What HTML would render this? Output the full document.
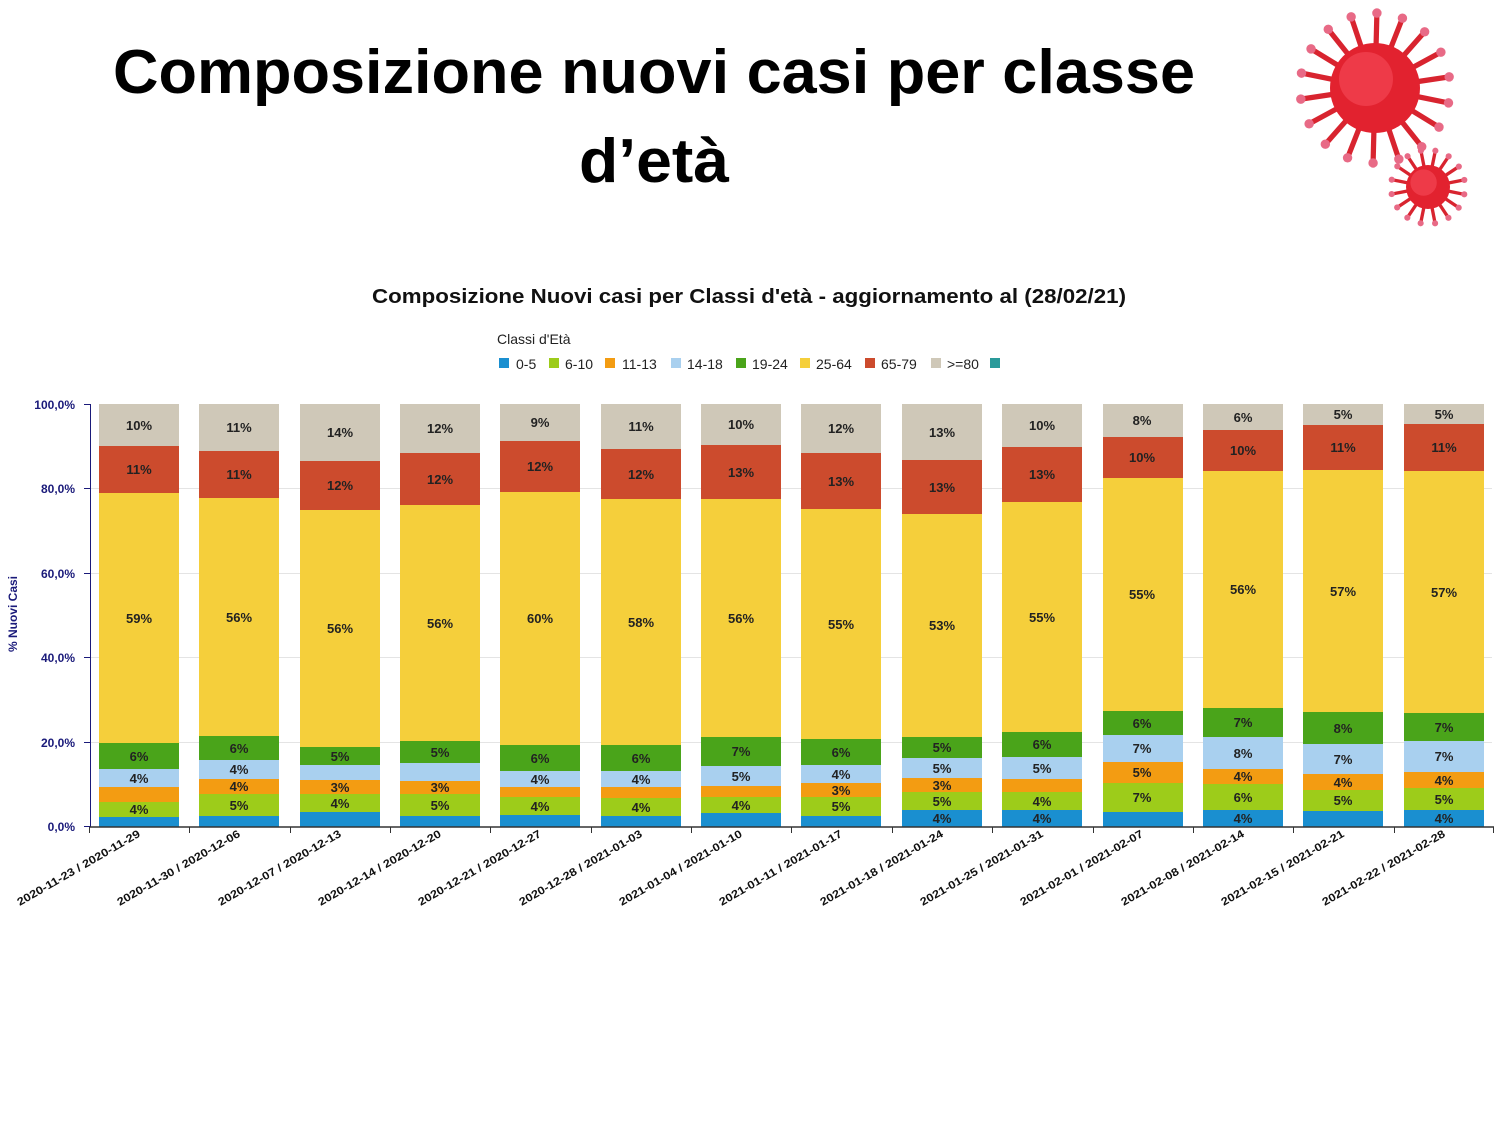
<!DOCTYPE html>
<html><head><meta charset="utf-8"><style>
html,body{margin:0;padding:0;background:#fff;}
svg{display:block;font-family:"Liberation Sans",sans-serif;}
.l{font-size:13px;font-weight:bold;fill:#222;text-anchor:middle;}
.x{font-size:11px;font-weight:bold;fill:#111;text-anchor:end;}
.y{font-size:12px;font-weight:bold;fill:#1a1a7a;text-anchor:end;}
.lg{font-size:14px;fill:#222;}
</style></head><body>
<svg id="s" width="1500" height="1125" viewBox="0 0 1500 1125" xmlns="http://www.w3.org/2000/svg">
<text x="654" y="93" font-size="62" font-weight="bold" text-anchor="middle" textLength="1082" lengthAdjust="spacingAndGlyphs">Composizione nuovi casi per classe</text>
<text x="654" y="182" font-size="62" font-weight="bold" text-anchor="middle" textLength="150" lengthAdjust="spacingAndGlyphs">d’età</text>
<g id="virus"></g>
<text x="749" y="303" font-size="20" font-weight="bold" text-anchor="middle" fill="#111" textLength="754" lengthAdjust="spacingAndGlyphs">Composizione Nuovi casi per Classi d'età - aggiornamento al (28/02/21)</text>
<text x="497" y="344" class="lg">Classi d'Età</text>
<g class="lg">
<rect x="499" y="358" width="10" height="10" fill="#1a8fd0"/><text x="516" y="369">0-5</text>
<rect x="549" y="358" width="10" height="10" fill="#9dcc1a"/><text x="565" y="369">6-10</text>
<rect x="605" y="358" width="10" height="10" fill="#f39c12"/><text x="622" y="369">11-13</text>
<rect x="671" y="358" width="10" height="10" fill="#a9d0ef"/><text x="687" y="369">14-18</text>
<rect x="736" y="358" width="10" height="10" fill="#4aa41a"/><text x="752" y="369">19-24</text>
<rect x="800" y="358" width="10" height="10" fill="#f5cf3b"/><text x="816" y="369">25-64</text>
<rect x="865" y="358" width="10" height="10" fill="#cc4b2d"/><text x="881" y="369">65-79</text>
<rect x="931" y="358" width="10" height="10" fill="#cfc8b8"/><text x="947" y="369">&gt;=80</text>
<rect x="990" y="358" width="10" height="10" fill="#2a9a9a"/>
</g>
<g stroke="#e4e4e4" stroke-width="1">
<line x1="90" x2="1492" y1="488.5" y2="488.5"/><line x1="90" x2="1492" y1="573.5" y2="573.5"/>
<line x1="90" x2="1492" y1="657.5" y2="657.5"/><line x1="90" x2="1492" y1="742.5" y2="742.5"/>
</g>
<g id="bars"></g>
<g stroke="#1a1a7a" stroke-width="1">
<line x1="90.5" y1="404" x2="90.5" y2="827"/>
<line x1="84" y1="404.5" x2="90" y2="404.5"/><line x1="84" y1="488.5" x2="90" y2="488.5"/><line x1="84" y1="573.5" x2="90" y2="573.5"/><line x1="84" y1="657.5" x2="90" y2="657.5"/><line x1="84" y1="742.5" x2="90" y2="742.5"/><line x1="84" y1="826.5" x2="90" y2="826.5"/>
</g>
<line x1="90" y1="827" x2="1494" y2="827" stroke="#333" stroke-width="1.5"/>
<g id="ticks" stroke="#333"></g>
<text class="y" x="75" y="409">100,0%</text><text class="y" x="75" y="493">80,0%</text><text class="y" x="75" y="578">60,0%</text><text class="y" x="75" y="662">40,0%</text><text class="y" x="75" y="747">20,0%</text><text class="y" x="75" y="831">0,0%</text>
<text transform="translate(17,614) rotate(-90)" font-size="12" font-weight="bold" fill="#1a1a7a" text-anchor="middle">% Nuovi Casi</text>
<g class="l">
<text x="139" y="814">4%</text><text x="139" y="783">4%</text><text x="139" y="761">6%</text><text x="139" y="623">59%</text><text x="139" y="474">11%</text><text x="139" y="430">10%</text>
<text x="239" y="810">5%</text><text x="239" y="791">4%</text><text x="239" y="774">4%</text><text x="239" y="753">6%</text><text x="239" y="622">56%</text><text x="239" y="479">11%</text><text x="239" y="432">11%</text>
<text x="340" y="808">4%</text><text x="340" y="792">3%</text><text x="340" y="761">5%</text><text x="340" y="633">56%</text><text x="340" y="490">12%</text><text x="340" y="437">14%</text>
<text x="440" y="810">5%</text><text x="440" y="792">3%</text><text x="440" y="757">5%</text><text x="440" y="628">56%</text><text x="440" y="484">12%</text><text x="440" y="433">12%</text>
<text x="540" y="811">4%</text><text x="540" y="784">4%</text><text x="540" y="763">6%</text><text x="540" y="623">60%</text><text x="540" y="471">12%</text><text x="540" y="427">9%</text>
<text x="641" y="812">4%</text><text x="641" y="784">4%</text><text x="641" y="763">6%</text><text x="641" y="627">58%</text><text x="641" y="479">12%</text><text x="641" y="431">11%</text>
<text x="741" y="810">4%</text><text x="741" y="781">5%</text><text x="741" y="756">7%</text><text x="741" y="623">56%</text><text x="741" y="477">13%</text><text x="741" y="429">10%</text>
<text x="841" y="811">5%</text><text x="841" y="795">3%</text><text x="841" y="779">4%</text><text x="841" y="757">6%</text><text x="841" y="629">55%</text><text x="841" y="486">13%</text><text x="841" y="433">12%</text>
<text x="942" y="823">4%</text><text x="942" y="806">5%</text><text x="942" y="790">3%</text><text x="942" y="773">5%</text><text x="942" y="752">5%</text><text x="942" y="630">53%</text><text x="942" y="492">13%</text><text x="942" y="437">13%</text>
<text x="1042" y="823">4%</text><text x="1042" y="806">4%</text><text x="1042" y="773">5%</text><text x="1042" y="749">6%</text><text x="1042" y="622">55%</text><text x="1042" y="479">13%</text><text x="1042" y="430">10%</text>
<text x="1142" y="802">7%</text><text x="1142" y="777">5%</text><text x="1142" y="753">7%</text><text x="1142" y="728">6%</text><text x="1142" y="599">55%</text><text x="1142" y="462">10%</text><text x="1142" y="425">8%</text>
<text x="1243" y="823">4%</text><text x="1243" y="802">6%</text><text x="1243" y="781">4%</text><text x="1243" y="758">8%</text><text x="1243" y="727">7%</text><text x="1243" y="594">56%</text><text x="1243" y="455">10%</text><text x="1243" y="422">6%</text>
<text x="1343" y="805">5%</text><text x="1343" y="787">4%</text><text x="1343" y="764">7%</text><text x="1343" y="733">8%</text><text x="1343" y="596">57%</text><text x="1343" y="452">11%</text><text x="1343" y="419">5%</text>
<text x="1444" y="823">4%</text><text x="1444" y="804">5%</text><text x="1444" y="785">4%</text><text x="1444" y="761">7%</text><text x="1444" y="732">7%</text><text x="1444" y="597">57%</text><text x="1444" y="452">11%</text><text x="1444" y="419">5%</text>
</g>
<g class="x">
<text transform="translate(141,836) rotate(-30)" textLength="140" lengthAdjust="spacingAndGlyphs">2020-11-23 / 2020-11-29</text>
<text transform="translate(241,836) rotate(-30)" textLength="140" lengthAdjust="spacingAndGlyphs">2020-11-30 / 2020-12-06</text>
<text transform="translate(342,836) rotate(-30)" textLength="140" lengthAdjust="spacingAndGlyphs">2020-12-07 / 2020-12-13</text>
<text transform="translate(442,836) rotate(-30)" textLength="140" lengthAdjust="spacingAndGlyphs">2020-12-14 / 2020-12-20</text>
<text transform="translate(542,836) rotate(-30)" textLength="140" lengthAdjust="spacingAndGlyphs">2020-12-21 / 2020-12-27</text>
<text transform="translate(643,836) rotate(-30)" textLength="140" lengthAdjust="spacingAndGlyphs">2020-12-28 / 2021-01-03</text>
<text transform="translate(743,836) rotate(-30)" textLength="140" lengthAdjust="spacingAndGlyphs">2021-01-04 / 2021-01-10</text>
<text transform="translate(843,836) rotate(-30)" textLength="140" lengthAdjust="spacingAndGlyphs">2021-01-11 / 2021-01-17</text>
<text transform="translate(944,836) rotate(-30)" textLength="140" lengthAdjust="spacingAndGlyphs">2021-01-18 / 2021-01-24</text>
<text transform="translate(1044,836) rotate(-30)" textLength="140" lengthAdjust="spacingAndGlyphs">2021-01-25 / 2021-01-31</text>
<text transform="translate(1144,836) rotate(-30)" textLength="140" lengthAdjust="spacingAndGlyphs">2021-02-01 / 2021-02-07</text>
<text transform="translate(1245,836) rotate(-30)" textLength="140" lengthAdjust="spacingAndGlyphs">2021-02-08 / 2021-02-14</text>
<text transform="translate(1345,836) rotate(-30)" textLength="140" lengthAdjust="spacingAndGlyphs">2021-02-15 / 2021-02-21</text>
<text transform="translate(1446,836) rotate(-30)" textLength="140" lengthAdjust="spacingAndGlyphs">2021-02-22 / 2021-02-28</text>
</g>
</svg>
<script>
var NS="http://www.w3.org/2000/svg";
var cols=["#1a8fd0","#9dcc1a","#f39c12","#a9d0ef","#4aa41a","#f5cf3b","#cc4b2d","#cfc8b8"];
var B=[[817,802,787,769,743,493,446],[816,794,779,760,736,498,451],[812,794,780,765,747,510,461],[816,794,781,763,741,505,453],[815,797,787,771,745,492,441],[816,798,787,771,745,499,449],[813,797,786,766,737,499,445],[816,797,783,765,739,509,453],[810,792,778,758,737,514,460],[810,792,779,757,732,502,447],[812,783,762,735,711,478,437],[810,784,769,737,708,471,430],[811,790,774,744,712,470,425],[810,788,772,741,713,471,424]];
var g=document.getElementById("bars"),t=document.getElementById("ticks");
function el(n,a,p){var e=document.createElementNS(NS,n);for(var k in a)e.setAttribute(k,a[k]);p.appendChild(e);return e;}
for(var i=0;i<14;i++){var x=Math.round(99+100.35*i);var b=[827].concat(B[i]).concat([404]);
for(var j=0;j<8;j++){el("rect",{x:x,y:b[j+1],width:80,height:b[j]-b[j+1],fill:cols[j]},g);}
var tx=Math.round(89+100.35*i)+0.5;el("line",{x1:tx,x2:tx,y1:827,y2:833},t);}
el("line",{x1:1493.5,x2:1493.5,y1:827,y2:833},t);
var v=document.getElementById("virus");
function virus(cx,cy,r,n,len){for(var k=0;k<n;k++){var a=k*2*Math.PI/n+0.2;var x2=cx+Math.cos(a)*(r+len),y2=cy+Math.sin(a)*(r+len);
el("line",{x1:cx,y1:cy,x2:x2,y2:y2,stroke:"#d8242f","stroke-width":r/12+1.5},v);el("circle",{cx:x2,cy:y2,r:r/14+1.5,fill:"#e86a86"},v);}
el("circle",{cx:cx,cy:cy,r:r,fill:"#e2222f"},v);el("circle",{cx:cx-r*0.2,cy:cy-r*0.2,r:r*0.6,fill:"#ee3a48"},v);}
virus(1375,88,45,18,30);virus(1428,187,22,16,15);
</script>
</body></html>
